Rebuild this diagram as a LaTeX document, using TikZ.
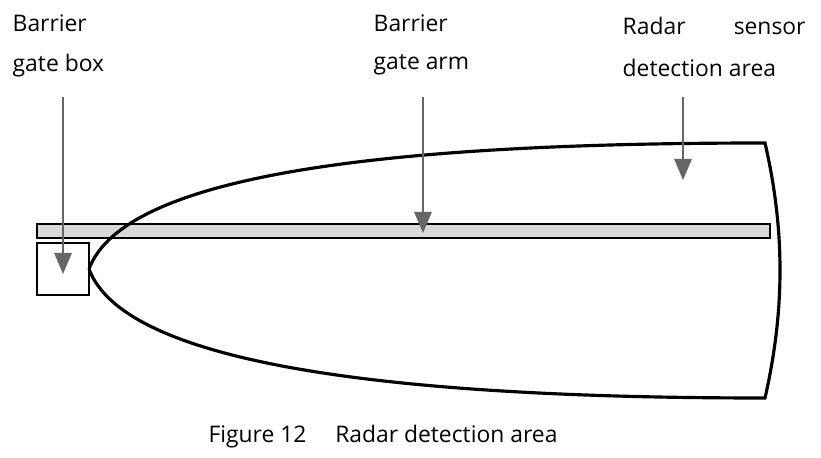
\documentclass[tikz,border=0pt]{standalone}
\usepackage{fontspec}
\setmainfont{Open Sans}
\usetikzlibrary{positioning, arrows}
\tikzstyle{label} = [anchor=west, inner sep=0pt, font=\fontsize{6.5pt}{7.5pt}\selectfont]
\tikzstyle{pointer} = [draw, gray!80!black, line width=0.35pt, -triangle 45]
\begin{document}
\begin{tikzpicture}[x=0.01cm, y=-0.01cm]
      \useasboundingbox (0,0) rectangle (821,458);
      % Place the labels
      \node [label] (boxtop) at (12,23) {Barrier};
      \node [label, below=12pt of boxtop.west, anchor=west] (boxlbl) {gate box};
      \node [label] (armtop) at (373,23) {Barrier};
      \node [label, below=12pt of armtop.west, anchor=west] (armlbl) {gate arm};
      \node [label, text width=52pt] (radtop) at (622,26) {Radar\hfill sensor};
      \node [label, below=12pt of radtop.west, anchor=west] (radlbl) {detection area};
      \node [label, anchor=center] (caption) at (383,437) {Figure 12\quad\ Radar detection area};
      % Draw the gate
      \draw [line width=0.4pt] (37,243) rectangle (89,295);
      \draw [line width=0.4pt, fill=gray!30] (37,224) rectangle (770,238);
      % Draw the detection area
      \draw [line width=0.9pt] (89,269) .. controls (125,172) and (400,143) .. (765,143)
            .. controls (785,230) and (785,310) .. (765,398)
            .. controls (400,398) and (125,366) .. (89,269);
      % Draw the pointers
      \coordinate (boxend) at (63,274);
      \coordinate (armend) at (423,233);
      \coordinate (radend) at (683,180);
      \path [pointer] (63,97) -- (boxend);
      \path [pointer] (423,97) -- (armend);
      \path [pointer] (683,97) -- (radend);
\end{tikzpicture}
\end{document}
